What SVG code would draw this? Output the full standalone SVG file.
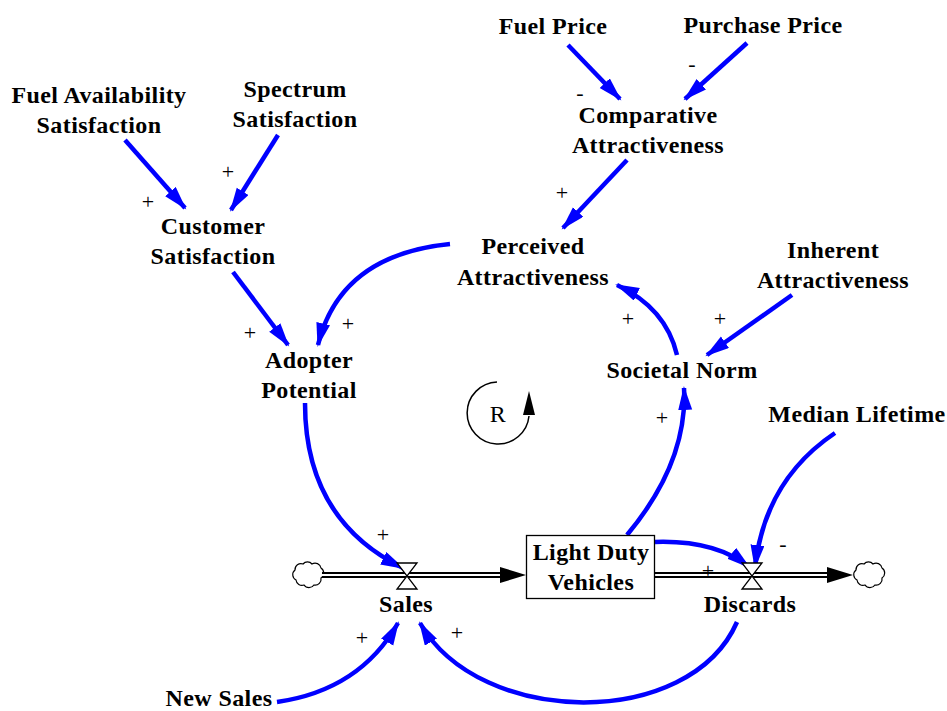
<svg xmlns="http://www.w3.org/2000/svg" width="947" height="711" viewBox="0 0 947 711">
<style>
.lbl{font-family:"Liberation Serif","Times New Roman",serif;font-size:24px;font-weight:bold;letter-spacing:0.4px;fill:#000;text-anchor:middle}
.pol{font-family:"Liberation Serif","Times New Roman",serif;font-size:22px;fill:#000;text-anchor:middle;dominant-baseline:central}
.lnk{fill:none;stroke:#0000ff;stroke-width:4.5;marker-end:url(#ah)}
.pipeo{stroke:#000;stroke-width:6}
.pipei{stroke:#fff;stroke-width:2}
.valve{fill:#fff;stroke:#000;stroke-width:1.3}
.cloud{fill:#fff;stroke:#000;stroke-width:1.2}
</style>
<defs>
<marker id="ah" markerUnits="userSpaceOnUse" markerWidth="26" markerHeight="16" refX="22" refY="7" orient="auto">
<path d="M0,0 L24,7 L0,14 z" fill="#0000ff"/>
</marker>
<path id="cloudp" d="M-13,-5 a6,6 0 0 1 8,-6 a6,6 0 0 1 9,0 a6,6 0 0 1 9,4 a6,6 0 0 1 0,10 a6,6 0 0 1 -7,7 a6,6 0 0 1 -10,0 a6,6 0 0 1 -8,-5 a6,6 0 0 1 -1,-10 z"/>
</defs>
<rect width="947" height="711" fill="#fff"/>

<g id="connectors">
<path class="lnk" d="M125,140 L185,208"/>
<path class="lnk" d="M278,135 L231,210"/>
<path class="lnk" d="M233,272 L288,345"/>
<path class="lnk" d="M450,244 Q340,255 318,345"/>
<path class="lnk" d="M568,45 L620,99"/>
<path class="lnk" d="M747,43 L685,99"/>
<path class="lnk" d="M627,160 L563,228"/>
<path class="lnk" d="M792,295 L707,355"/>
<path class="lnk" d="M677,355 Q666,308 617,285"/>
<path class="lnk" d="M305,403 Q305,520 403,568"/>
<path class="lnk" d="M627,535 Q688,462 684,388"/>
<path class="lnk" d="M655,542 Q715,540 749,567"/>
<path class="lnk" d="M835,433 Q765,480 755,567"/>
<path class="lnk" d="M737,622 C690,730 480,728 420,623"/>
<path class="lnk" d="M277,702 Q360,690 398,623"/>
</g>

<g id="flows">
<use href="#cloudp" class="cloud" transform="translate(308,575)"/>
<use href="#cloudp" class="cloud" transform="translate(869,575)"/>
<line class="pipeo" x1="322" y1="575" x2="502" y2="575"/>
<line class="pipei" x1="320" y1="575" x2="502" y2="575"/>
<polygon points="500,567 526,575 500,583" fill="#000"/>
<line class="pipeo" x1="655" y1="575" x2="829" y2="575"/>
<line class="pipei" x1="655" y1="575" x2="829" y2="575"/>
<polygon points="827,567 853,575 827,583" fill="#000"/>
</g>

<g id="sales">
<polygon class="valve" points="397,563 417,563 397,589 417,589"/>
<text class="lbl" x="406" y="612">Sales</text>
</g>
<g id="discards">
<polygon class="valve" points="742,563 762,563 742,589 762,589"/>
<text class="lbl" x="750" y="612">Discards</text>
</g>
<g id="light-duty-vehicles">
<rect x="526.5" y="535.5" width="128" height="63" fill="#fff" stroke="#000" stroke-width="1.3"/>
<text class="lbl" x="591" y="560">Light Duty</text>
<text class="lbl" x="591" y="590">Vehicles</text>
</g>

<g id="fuel-availability-satisfaction">
<text class="lbl" x="99" y="103">Fuel Availability</text>
<text class="lbl" x="99" y="133">Satisfaction</text>
</g>
<g id="spectrum-satisfaction">
<text class="lbl" x="295" y="97">Spectrum</text>
<text class="lbl" x="295" y="127">Satisfaction</text>
</g>
<g id="customer-satisfaction">
<text class="lbl" x="213" y="234">Customer</text>
<text class="lbl" x="213" y="264">Satisfaction</text>
</g>
<g id="fuel-price">
<text class="lbl" x="553" y="34">Fuel Price</text>
</g>
<g id="purchase-price">
<text class="lbl" x="763" y="33">Purchase Price</text>
</g>
<g id="comparative-attractiveness">
<text class="lbl" x="648" y="123">Comparative</text>
<text class="lbl" x="648" y="153">Attractiveness</text>
</g>
<g id="perceived-attractiveness">
<text class="lbl" x="533" y="254">Perceived</text>
<text class="lbl" x="533" y="285">Attractiveness</text>
</g>
<g id="inherent-attractiveness">
<text class="lbl" x="833" y="258">Inherent</text>
<text class="lbl" x="833" y="288">Attractiveness</text>
</g>
<g id="societal-norm">
<text class="lbl" x="682" y="378">Societal Norm</text>
</g>
<g id="adopter-potential">
<text class="lbl" x="309" y="368">Adopter</text>
<text class="lbl" x="309" y="398">Potential</text>
</g>
<g id="median-lifetime">
<text class="lbl" x="857" y="422">Median Lifetime</text>
</g>
<g id="new-sales">
<text class="lbl" x="219" y="706">New Sales</text>
</g>

<g id="loop-r">
<path d="M497,382 A31,31 0 1 0 529,416" fill="none" stroke="#000" stroke-width="1.5"/>
<polygon points="529,391 535,415 523,415" fill="#000"/>
<text class="lbl" x="498" y="422" style="font-weight:normal">R</text>
</g>

<g id="polarities">
<text class="pol" x="148" y="201">+</text>
<text class="pol" x="228" y="171">+</text>
<text class="pol" x="250" y="332">+</text>
<text class="pol" x="348" y="323">+</text>
<text class="pol" x="580" y="92">-</text>
<text class="pol" x="692" y="63">-</text>
<text class="pol" x="562" y="192">+</text>
<text class="pol" x="628" y="318">+</text>
<text class="pol" x="720" y="318">+</text>
<text class="pol" x="662" y="417">+</text>
<text class="pol" x="383" y="534">+</text>
<text class="pol" x="362" y="637">+</text>
<text class="pol" x="457" y="632">+</text>
<text class="pol" x="783" y="543">-</text>
<text class="pol" x="708" y="570">+</text>
</g>
</svg>
